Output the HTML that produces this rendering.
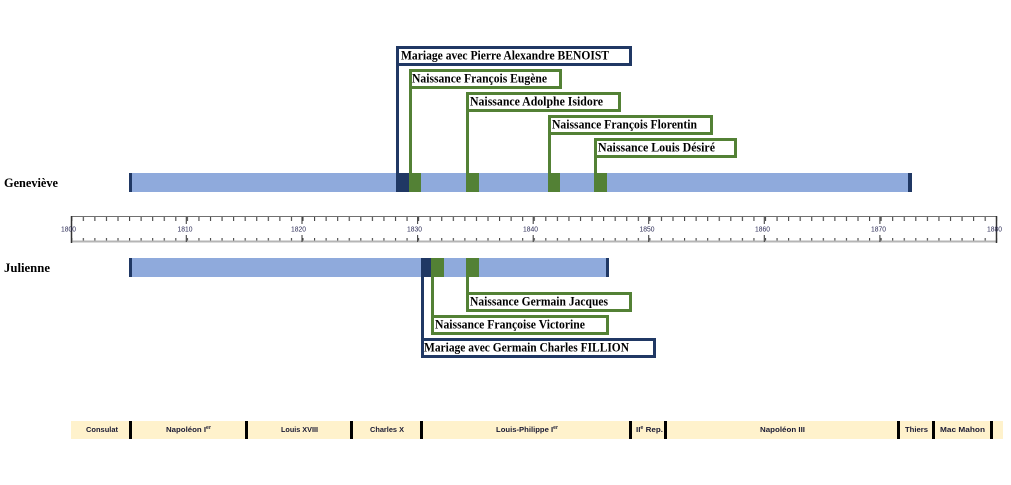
<!DOCTYPE html>
<html>
<head>
<meta charset="utf-8">
<style>
html,body{margin:0;padding:0;background:#fff;}
svg{display:block;}
.lbl{font-family:"Liberation Serif",serif;font-weight:bold;font-size:12.5px;fill:#000;}
.reg{font-family:"Liberation Sans",sans-serif;font-weight:bold;font-size:7.5px;fill:#1a1a33;}
.yr{font-family:"Liberation Sans",sans-serif;font-size:7.5px;fill:#2a2a55;}
</style>
</head>
<body>
<svg width="1011" height="485" viewBox="0 0 1011 485" xmlns="http://www.w3.org/2000/svg">
<defs>
  <pattern id="tkTop" patternUnits="userSpaceOnUse" x="71.2" y="217" width="11.5625" height="5">
    <rect x="0" y="0" width="1.1" height="4" fill="#444"/>
  </pattern>
  <pattern id="tkBot" patternUnits="userSpaceOnUse" x="71.2" y="238" width="11.5625" height="5">
    <rect x="0" y="0" width="1.1" height="4" fill="#444"/>
  </pattern>
</defs>

<!-- Names -->
<text class="lbl" x="4" y="187" textLength="54" lengthAdjust="spacingAndGlyphs">Geneviève</text>
<text class="lbl" x="4" y="272" textLength="46" lengthAdjust="spacingAndGlyphs">Julienne</text>

<!-- Geneviève bar -->
<rect x="129" y="173" width="783" height="19" fill="#8faadc"/>
<rect x="129" y="173" width="3" height="19" fill="#203864"/>
<rect x="908" y="173" width="4" height="19" fill="#203864"/>
<rect x="396" y="173" width="13" height="19" fill="#203864"/>
<rect x="409" y="173" width="12" height="19" fill="#538135"/>
<rect x="466" y="173" width="13" height="19" fill="#538135"/>
<rect x="548" y="173" width="12" height="19" fill="#538135"/>
<rect x="594" y="173" width="13" height="19" fill="#538135"/>

<!-- Geneviève connectors & boxes -->
<g fill="none" stroke-width="3">
  <line x1="397.5" y1="47" x2="397.5" y2="174" stroke="#203864"/>
  <rect x="397.5" y="47.5" width="233" height="17" stroke="#203864" fill="#fff"/>
  <line x1="410.5" y1="70" x2="410.5" y2="174" stroke="#538135"/>
  <rect x="410.5" y="70.5" width="150" height="17" stroke="#538135" fill="#fff"/>
  <line x1="467.5" y1="93" x2="467.5" y2="174" stroke="#538135"/>
  <rect x="467.5" y="93.5" width="152" height="17" stroke="#538135" fill="#fff"/>
  <line x1="549.5" y1="116" x2="549.5" y2="174" stroke="#538135"/>
  <rect x="549.5" y="116.5" width="162" height="17" stroke="#538135" fill="#fff"/>
  <line x1="595.5" y1="139" x2="595.5" y2="174" stroke="#538135"/>
  <rect x="595.5" y="139.5" width="140" height="17" stroke="#538135" fill="#fff"/>
</g>
<text class="lbl" x="401" y="59.5" textLength="208" lengthAdjust="spacingAndGlyphs">Mariage avec Pierre Alexandre BENOIST</text>
<text class="lbl" x="412" y="82.5" textLength="135" lengthAdjust="spacingAndGlyphs">Naissance François Eugène</text>
<text class="lbl" x="470" y="105.5" textLength="133" lengthAdjust="spacingAndGlyphs">Naissance Adolphe Isidore</text>
<text class="lbl" x="552" y="128.5" textLength="145" lengthAdjust="spacingAndGlyphs">Naissance François Florentin</text>
<text class="lbl" x="598" y="151.5" textLength="117" lengthAdjust="spacingAndGlyphs">Naissance Louis Désiré</text>

<!-- Ruler -->
<rect x="71.2" y="217" width="926" height="4" fill="url(#tkTop)"/>
<rect x="71.2" y="238" width="926" height="4" fill="url(#tkBot)"/>
<line x1="71" y1="216.5" x2="997" y2="216.5" stroke="#707070" stroke-width="1"/>
<line x1="71" y1="241.5" x2="997" y2="241.5" stroke="#b5b5b5" stroke-width="2"/>
<line x1="71.5" y1="216" x2="71.5" y2="243" stroke="#333" stroke-width="1.5"/>
<line x1="996.5" y1="216" x2="996.5" y2="243" stroke="#333" stroke-width="1.5"/>
<g stroke="#444" stroke-width="1.1">
  <line x1="186.3" y1="217" x2="186.3" y2="224"/><line x1="186.3" y1="235" x2="186.3" y2="242"/>
  <line x1="302" y1="217" x2="302" y2="224"/><line x1="302" y1="235" x2="302" y2="242"/>
  <line x1="417.6" y1="217" x2="417.6" y2="224"/><line x1="417.6" y1="235" x2="417.6" y2="242"/>
  <line x1="533.2" y1="217" x2="533.2" y2="224"/><line x1="533.2" y1="235" x2="533.2" y2="242"/>
  <line x1="648.7" y1="217" x2="648.7" y2="224"/><line x1="648.7" y1="235" x2="648.7" y2="242"/>
  <line x1="764.3" y1="217" x2="764.3" y2="224"/><line x1="764.3" y1="235" x2="764.3" y2="242"/>
  <line x1="879.9" y1="217" x2="879.9" y2="224"/><line x1="879.9" y1="235" x2="879.9" y2="242"/>
</g>
<g class="yr">
  <text x="61" y="231.7" textLength="15" lengthAdjust="spacingAndGlyphs">1800</text>
  <text x="177.5" y="231.7" textLength="15" lengthAdjust="spacingAndGlyphs">1810</text>
  <text x="291" y="231.7" textLength="15" lengthAdjust="spacingAndGlyphs">1820</text>
  <text x="407" y="231.7" textLength="15" lengthAdjust="spacingAndGlyphs">1830</text>
  <text x="523" y="231.7" textLength="15" lengthAdjust="spacingAndGlyphs">1840</text>
  <text x="639.5" y="231.7" textLength="15" lengthAdjust="spacingAndGlyphs">1850</text>
  <text x="755" y="231.7" textLength="15" lengthAdjust="spacingAndGlyphs">1860</text>
  <text x="871" y="231.7" textLength="15" lengthAdjust="spacingAndGlyphs">1870</text>
  <text x="987" y="231.7" textLength="15" lengthAdjust="spacingAndGlyphs">1880</text>
</g>

<!-- Julienne bar -->
<rect x="129" y="258" width="480" height="19" fill="#8faadc"/>
<rect x="129" y="258" width="3" height="19" fill="#203864"/>
<rect x="606" y="258" width="3" height="19" fill="#203864"/>
<rect x="421" y="258" width="10" height="19" fill="#203864"/>
<rect x="431" y="258" width="13" height="19" fill="#538135"/>
<rect x="466" y="258" width="13" height="19" fill="#538135"/>

<g fill="none" stroke-width="3">
  <line x1="422.5" y1="276" x2="422.5" y2="340" stroke="#203864"/>
  <rect x="422.5" y="339.5" width="232" height="17" stroke="#203864" fill="#fff"/>
  <line x1="432.5" y1="276" x2="432.5" y2="317" stroke="#538135"/>
  <rect x="432.5" y="316.5" width="175" height="17" stroke="#538135" fill="#fff"/>
  <line x1="467.5" y1="276" x2="467.5" y2="294" stroke="#538135"/>
  <rect x="467.5" y="293.5" width="163" height="17" stroke="#538135" fill="#fff"/>
</g>
<text class="lbl" x="470" y="305.5" textLength="138" lengthAdjust="spacingAndGlyphs">Naissance Germain Jacques</text>
<text class="lbl" x="435" y="328.5" textLength="150" lengthAdjust="spacingAndGlyphs">Naissance Françoise Victorine</text>
<text class="lbl" x="424" y="351.5" textLength="205" lengthAdjust="spacingAndGlyphs">Mariage avec Germain Charles FILLION</text>

<!-- Regimes -->
<rect x="71" y="421" width="932" height="18" fill="#fff2cc"/>
<g fill="#000">
  <rect x="129" y="421" width="3" height="18"/>
  <rect x="245" y="421" width="3" height="18"/>
  <rect x="350" y="421" width="3" height="18"/>
  <rect x="420" y="421" width="3" height="18"/>
  <rect x="629" y="421" width="3" height="18"/>
  <rect x="664" y="421" width="3" height="18"/>
  <rect x="897" y="421" width="3" height="18"/>
  <rect x="932" y="421" width="3" height="18"/>
  <rect x="990" y="421" width="3" height="18"/>
</g>
<g class="reg">
  <text x="86" y="432" textLength="32" lengthAdjust="spacingAndGlyphs">Consulat</text>
  <text x="166" y="432" textLength="45" lengthAdjust="spacingAndGlyphs">Napoléon I<tspan font-size="5" dy="-3">er</tspan></text>
  <text x="281" y="432" textLength="37" lengthAdjust="spacingAndGlyphs">Louis XVIII</text>
  <text x="370" y="432" textLength="34" lengthAdjust="spacingAndGlyphs">Charles X</text>
  <text x="496" y="432" textLength="62" lengthAdjust="spacingAndGlyphs">Louis-Philippe I<tspan font-size="5" dy="-3">er</tspan></text>
  <text x="636" y="432" textLength="27" lengthAdjust="spacingAndGlyphs">II<tspan font-size="5" dy="-3">e</tspan><tspan dy="3"> Rep.</tspan></text>
  <text x="760" y="432" textLength="45" lengthAdjust="spacingAndGlyphs">Napoléon III</text>
  <text x="905" y="432" textLength="23" lengthAdjust="spacingAndGlyphs">Thiers</text>
  <text x="940" y="432" textLength="45" lengthAdjust="spacingAndGlyphs">Mac Mahon</text>
</g>
</svg>
</body>
</html>
